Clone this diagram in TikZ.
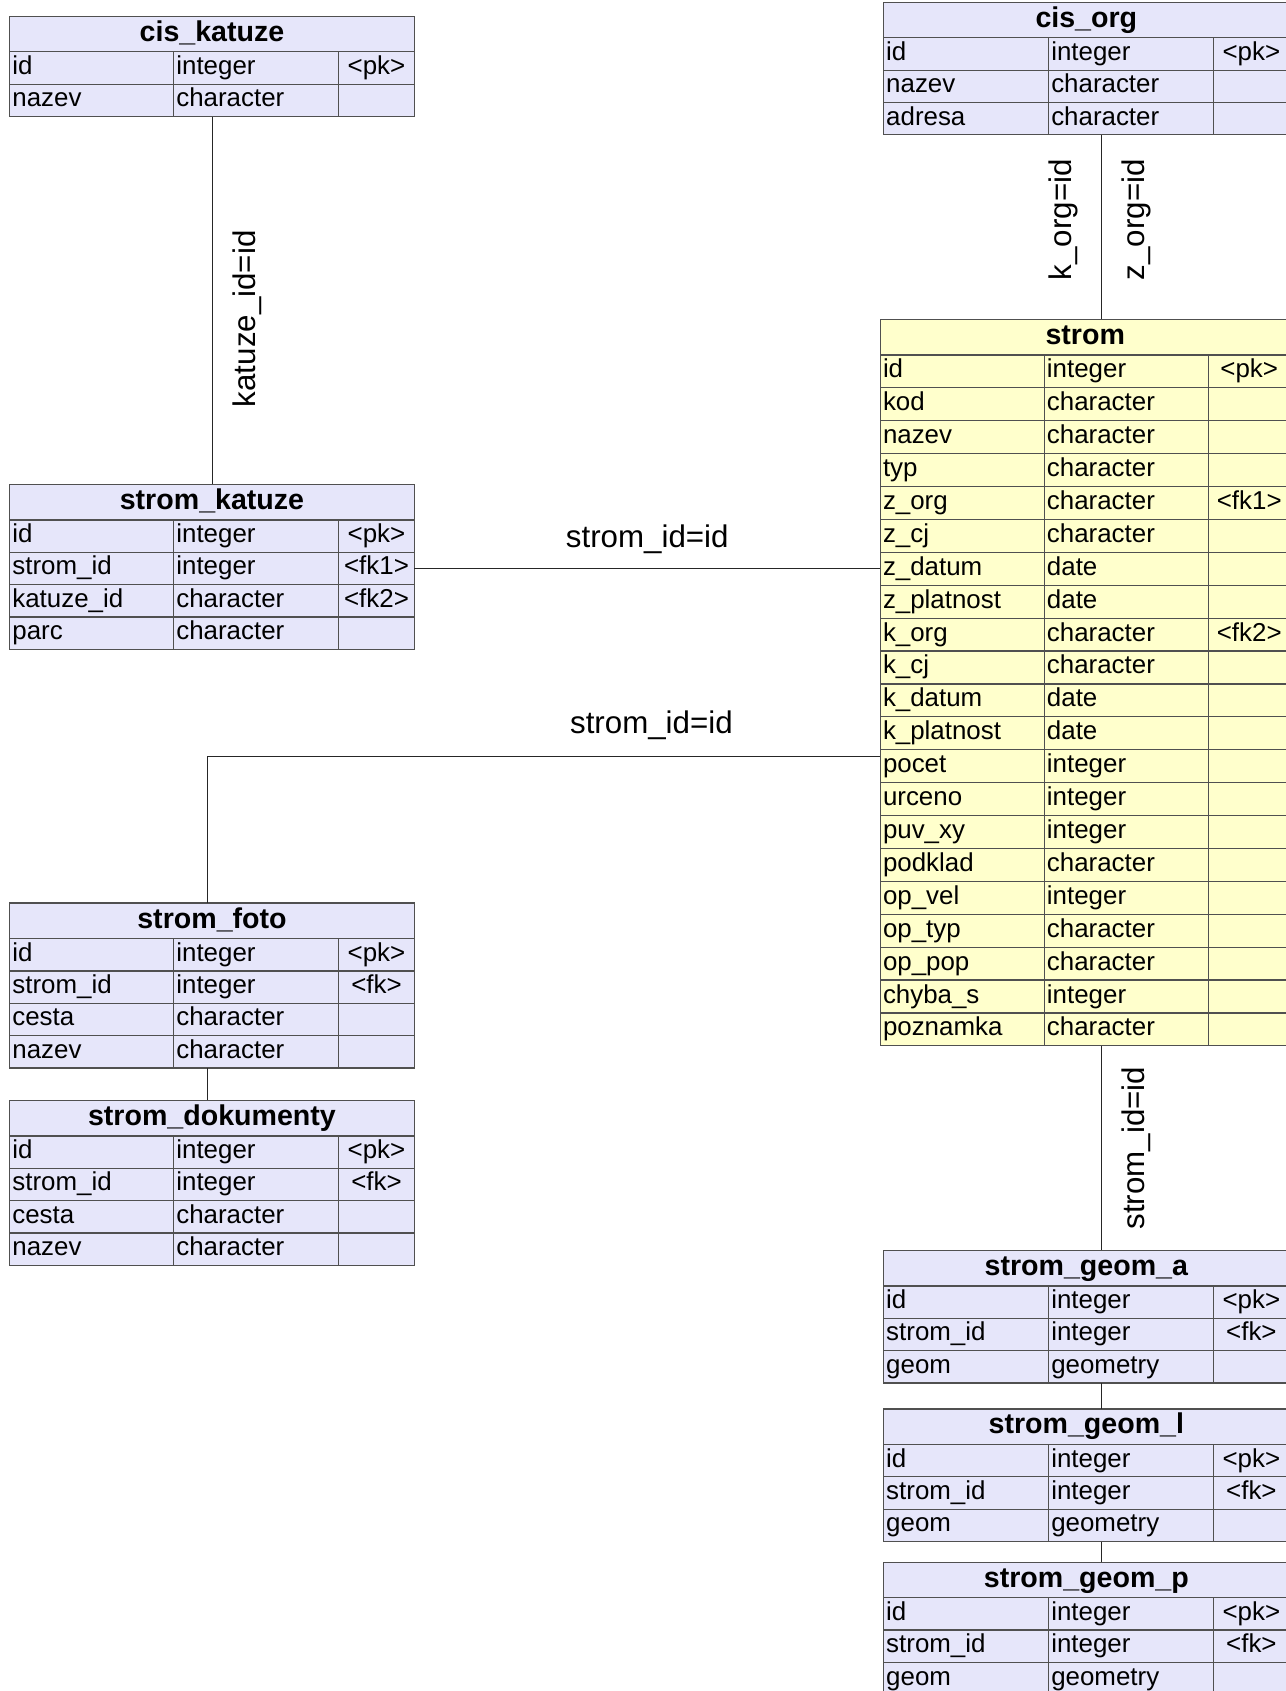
\documentclass[tikz,border=0pt]{standalone}
\usepackage{fontspec}
\setmainfont{Liberation Sans}
\definecolor{lav}{RGB}{230,230,250}
\definecolor{straw}{RGB}{255,255,204}
\definecolor{edge}{RGB}{80,80,80}
\begin{document}
\begin{tikzpicture}[x=1pt, y=1pt,
  tabhead/.style={draw=edge, line width=1.1pt, fill=lav, anchor=north west, minimum height=33, inner sep=0,
    outer sep=0, text height=19, text depth=5.5, font=\fontsize{26.5}{30}\selectfont\bfseries},
  tabcell/.style={draw=edge, line width=1.1pt, fill=lav, anchor=north west, minimum height=30, inner xsep=2.5,
    inner ysep=0, outer sep=0, text width=#1, align=left, text height=17, text depth=5, font=\fontsize{24}{28}\selectfont},
  keycell/.style={tabcell=#1, align=center},
  link/.style={draw=black!85, line width=0.8pt},
  rellabel/.style={font=\fontsize{29}{33}\selectfont}]
\useasboundingbox (0,0) rectangle (1192,-1567.5);
\clip (0,0) rectangle (1192,-1567.5);
% Draw cis_katuze
\node[tabhead, minimum width=375] (ck) at (9,-15) {cis\_katuze};
\foreach \a/\b/\c [count=\i] in {id/integer/<pk>, nazev/character/{}} {
    \node[tabcell=147] (ck-\i-1) at ([yshift={-(\i-1)*30}]ck.south west) {\a};
    \node[tabcell=148] (ck-\i-2) at (ck-\i-1.north east) {\b};
    \node[keycell=65] (ck-\i-3) at (ck-\i-2.north east) {\c};
}
% Draw strom_katuze
\node[tabhead, minimum width=375] (sk) at (9,-449) {strom\_katuze};
\foreach \a/\b/\c [count=\i] in {id/integer/<pk>, strom\_id/integer/<fk1>, katuze\_id/character/<fk2>, parc/character/{}} {
    \node[tabcell=147] (sk-\i-1) at ([yshift={-(\i-1)*30}]sk.south west) {\a};
    \node[tabcell=148] (sk-\i-2) at (sk-\i-1.north east) {\b};
    \node[keycell=65] (sk-\i-3) at (sk-\i-2.north east) {\c};
}
% Draw strom_foto
\node[tabhead, minimum width=375] (sf) at (9,-837) {strom\_foto};
\foreach \a/\b/\c [count=\i] in {id/integer/<pk>, strom\_id/integer/<fk>, cesta/character/{}, nazev/character/{}} {
    \node[tabcell=147] (sf-\i-1) at ([yshift={-(\i-1)*30}]sf.south west) {\a};
    \node[tabcell=148] (sf-\i-2) at (sf-\i-1.north east) {\b};
    \node[keycell=65] (sf-\i-3) at (sf-\i-2.north east) {\c};
}
% Draw strom_dokumenty
\node[tabhead, minimum width=375] (sd) at (9,-1020) {strom\_dokumenty};
\foreach \a/\b/\c [count=\i] in {id/integer/<pk>, strom\_id/integer/<fk>, cesta/character/{}, nazev/character/{}} {
    \node[tabcell=147] (sd-\i-1) at ([yshift={-(\i-1)*30}]sd.south west) {\a};
    \node[tabcell=148] (sd-\i-2) at (sd-\i-1.north east) {\b};
    \node[keycell=65] (sd-\i-3) at (sd-\i-2.north east) {\c};
}
% Draw cis_org
\node[tabhead, minimum width=376] (co) at (819,-2) {cis\_org};
\foreach \a/\b/\c [count=\i] in {id/integer/<pk>, nazev/character/{}, adresa/character/{}} {
    \node[tabcell=148] (co-\i-1) at ([yshift={-(\i-1)*30}]co.south west) {\a};
    \node[tabcell=148] (co-\i-2) at (co-\i-1.north east) {\b};
    \node[keycell=65] (co-\i-3) at (co-\i-2.north east) {\c};
}
% Draw strom
\node[tabhead, fill=straw, minimum width=380] (strom) at (816,-296) {strom};
\foreach \a/\b/\c [count=\i] in {id/integer/<pk>, kod/character/{}, nazev/character/{}, typ/character/{},
    z\_org/character/<fk1>, z\_cj/character/{}, z\_datum/date/{}, z\_platnost/date/{}, k\_org/character/<fk2>,
    k\_cj/character/{}, k\_datum/date/{}, k\_platnost/date/{}, pocet/integer/{}, urceno/integer/{},
    puv\_xy/integer/{}, podklad/character/{}, op\_vel/integer/{}, op\_typ/character/{}, op\_pop/character/{},
    chyba\_s/integer/{}, poznamka/character/{}} {
    \node[tabcell=147, fill=straw, minimum height=30.5] (strom-\i-1) at ([yshift={-(\i-1)*30.5}]strom.south west) {\a};
    \node[tabcell=147, fill=straw, minimum height=30.5] (strom-\i-2) at (strom-\i-1.north east) {\b};
    \node[keycell=71, fill=straw, minimum height=30.5] (strom-\i-3) at (strom-\i-2.north east) {\c};
}
% Draw strom_geom_a, strom_geom_l, strom_geom_p
\node[tabhead, minimum width=376] (ga) at (819,-1159) {strom\_geom\_a};
\node[tabhead, minimum width=376] (gl) at (819,-1306) {strom\_geom\_l};
\node[tabhead, minimum width=376] (gp) at (819,-1448) {strom\_geom\_p};
\foreach \t in {ga,gl,gp}
    \foreach \a/\b/\c [count=\i] in {id/integer/<pk>, strom\_id/integer/<fk>, geom/geometry/{}} {
        \node[tabcell=148] (\t-\i-1) at ([yshift={-(\i-1)*30}]\t.south west) {\a};
        \node[tabcell=148] (\t-\i-2) at (\t-\i-1.north east) {\b};
        \node[keycell=65] (\t-\i-3) at (\t-\i-2.north east) {\c};
    }
% Draw references
\coordinate (spine) at (1021,0);
\coordinate (fspine) at (192,0);
\draw[link] (ck.center |- ck-2-1.south) -- (sk.north)
    node[rellabel, pos=0.55, xshift=33, rotate=90] {katuze\_id=id};
\draw[link] (sk-2-3.east) -- (sk-2-3.east -| strom.west)
    node[rellabel, midway, yshift=27] {strom\_id=id};
\draw[link] (fspine |- sf.north) |- ([yshift=-6]strom-12-1.south west)
    node[rellabel, pos=0.83, yshift=29] {strom\_id=id};
\draw[link] (fspine |- sf-4-1.south) -- (fspine |- sd.north);
\draw[link] (spine |- co-3-1.south) -- (spine |- strom.north)
    node[rellabel, pos=0.46, xshift=-35, rotate=90] {k\_org=id}
    node[rellabel, pos=0.46, xshift=32, rotate=90] {z\_org=id};
\draw[link] (spine |- strom-21-1.south) -- (spine |- ga.north)
    node[rellabel, midway, xshift=32, rotate=90] {strom\_id=id};
\draw[link] (spine |- ga-3-1.south) -- (spine |- gl.north);
\draw[link] (spine |- gl-3-1.south) -- (spine |- gp.north);
\end{tikzpicture}
\end{document}
